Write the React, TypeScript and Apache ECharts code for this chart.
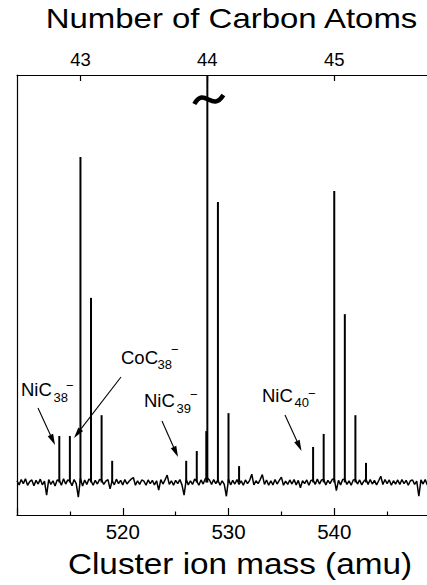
import React, { useEffect, useRef } from "react";
import * as echarts from "echarts";

// ---- data ----
const massMin = 510;
const massMax = 550;
const carbonAtoms = [43, 44, 45];
const carbonMasses = [516, 528, 540];

const noiseStart = 510;
const noiseStep = 0.2;
const noise = [
  0.4, -0.6, 0.7, -0.3, 0.9, -0.7, 0.2, 0.6, -0.8, 0.5,
  -0.4, 0.8, -0.6, 0.3, -3.1, 0.7, -0.5, 0.4, -0.9, 0.6,
  0.5, -0.7, 0.9, -0.4, 0.6, 0.3, -0.8, 0.7, -0.3, -3.6,
  1.0, -0.9, 0.6, -0.5, 0.8, 0.4, -0.7, 0.5, -0.4, 0.7,
  0.6, -0.5, 0.3, 0.7, -1.6, 0.4, -0.6, 0.8, -0.3, 0.5,
  -0.6, 0.7, -0.4, 0.3, 0.8, 1.2, -0.7, 0.4, -0.5, 0.6,
  0.3, -0.7, 0.6, -0.3, 0.5, -0.6, 0.4, -1.9, 0.7, -0.4,
  0.6, 1.8, -0.5, 0.4, -0.7, 0.5, -0.3, 0.7, -0.6, -3.1,
  0.7, -0.6, 0.4, -0.5, 0.8, 0.3, -0.7, 0.6, -0.4, 0.9,
  1.1, 0.6, -0.5, 0.7, -0.3, 0.6, -0.7, 0.4, -0.5, -3.4,
  0.8, -0.6, 0.5, -0.4, 0.7, -0.5, 0.4, -0.7, 0.6, -0.3,
  0.5, 2.0, -0.6, 0.4, -0.3, 0.7, 1.9, -0.5, 0.6, -0.7,
  0.4, -0.6, 0.7, -0.4, 0.5, 1.3, -0.7, 0.3, -0.5, 0.6,
  -0.4, 0.7, -0.6, 0.5, -1.3, 0.4, -0.3, 0.6, -0.7, 0.5,
  0.6, -0.5, 0.8, -0.4, 0.6, 0.7, -0.6, 0.5, -0.3, 0.7,
  0.9, -2.0, 0.5, -0.6, 0.7, 0.8, -0.5, 0.4, -0.7, 0.6,
  0.7, -0.4, 0.6, -0.6, 0.3, 0.8, -0.5, 0.7, -0.4, 0.5,
  -0.6, 0.4, 1.5, -0.5, 0.7, -0.3, 0.6, -0.7, 0.4, -0.4,
  0.6, -0.5, 0.7, -0.3, 0.5, -0.7, 0.4, 0.6, -0.5, 0.3,
  -3.4, 0.6, -0.4, 0.7, -0.6, 0.4, -0.3, 0.6, -0.5, 0.7,
  0.3,
];

const peakMasses = [514, 515, 516, 517, 518, 519, 526, 527, 527.9, 528, 529, 530, 531, 538, 539, 540, 541, 542, 543];
const peakHeights = [11.4, 11.4, 79.9, 45.3, 16.5, 5.3, 5.3, 7.7, 12.6, 130, 68.8, 17.0, 4.0, 8.7, 11.9, 71.5, 41.3, 16.5, 4.8];

const labelMain = ["NiC", "CoC", "NiC", "NiC"];
const labelSub = ["38", "38", "39", "40"];

// annotation layout (pixels)
const labelPos = [
  { x: 21, y: 389.6, subX: 53.5, subY: 397, supX: 66, supY: 385, arrow: [38, 408, 55, 445] },
  { x: 121, y: 357.6, subX: 157.5, subY: 364.1, supX: 171, supY: 349, arrow: [121, 377, 74, 438] },
  { x: 144, y: 400.9, subX: 176.5, subY: 408.1, supX: 190, supY: 394, arrow: [162, 421, 178, 457] },
  { x: 262, y: 395.3, subX: 294.5, subY: 402.5, supX: 308, supY: 393, arrow: [285, 415, 301.5, 451] },
];

const FONT = "Liberation Sans, Arial, Helvetica, sans-serif";

function arrowElems(x1: number, y1: number, x2: number, y2: number) {
  const dx = x2 - x1;
  const dy = y2 - y1;
  const len = Math.sqrt(dx * dx + dy * dy);
  const ux = dx / len;
  const uy = dy / len;
  const L = 11;
  const W = 3;
  const bx = x2 - ux * L;
  const by = y2 - uy * L;
  return [
    {
      type: "line",
      shape: { x1, y1, x2: x2 - ux * L * 0.7, y2: y2 - uy * L * 0.7 },
      style: { stroke: "#000", lineWidth: 1.1 },
      z: 10,
    },
    {
      type: "polygon",
      shape: {
        points: [
          [x2, y2],
          [bx - uy * W, by + ux * W],
          [bx + uy * W, by - ux * W],
        ],
      },
      style: { fill: "#000" },
      z: 10,
    },
  ];
}

export default function App() {
  const ref = useRef<HTMLDivElement>(null);

  useEffect(() => {
    if (!ref.current) return;
    const chart = echarts.init(ref.current, null, { renderer: "svg" });

    const noiseData = noise.map((v, i) => [Number((noiseStart + i * noiseStep).toFixed(1)), v]);
    const peakData = peakMasses.map((m, i) => [m, peakHeights[i]]);

    const axisLineStyle = { color: "#000", width: 1.2 };

    chart.setOption({
      animation: false,
      backgroundColor: "#fff",
      grid: { left: 17, width: 423, top: 75, height: 440, outerBoundsMode: "none", containLabel: false },
      xAxis: [
        {
          type: "value",
          position: "bottom",
          min: massMin,
          max: massMax,
          interval: 10,
          axisLine: { show: true, onZero: false, lineStyle: axisLineStyle },
          axisTick: { show: true, inside: true, length: 7, lineStyle: axisLineStyle },
          minorTick: { show: true, splitNumber: 2, length: 3.5, lineStyle: axisLineStyle },
          axisLabel: {
            show: true,
            margin: 6,
            color: "#000",
            fontFamily: FONT,
            fontSize: 20.5,
            showMinLabel: false,
            showMaxLabel: false,
          },
          splitLine: { show: false },
          minorSplitLine: { show: false },
        },
        {
          type: "value",
          position: "top",
          min: massMin,
          max: massMax,
          axisLine: { show: true, onZero: false, lineStyle: axisLineStyle },
          axisTick: { show: true, inside: true, length: 6, customValues: carbonMasses, lineStyle: axisLineStyle },
          axisLabel: {
            show: true,
            customValues: carbonMasses,
            formatter: (v: number) => String(carbonAtoms[carbonMasses.indexOf(v)] ?? ""),
            margin: 6,
            color: "#000",
            fontFamily: FONT,
            fontSize: 18.5,
          },
          splitLine: { show: false },
        },
      ],
      yAxis: {
        type: "value",
        min: -8,
        max: 100,
        axisLine: { show: true, onZero: false, lineStyle: axisLineStyle },
        axisTick: { show: false },
        axisLabel: { show: false },
        splitLine: { show: false },
      },
      series: [
        {
          type: "line",
          xAxisIndex: 0,
          yAxisIndex: 0,
          data: noiseData,
          symbol: "none",
          lineStyle: { color: "#000", width: 1.5 },
          z: 2,
        },
        {
          type: "bar",
          xAxisIndex: 0,
          yAxisIndex: 0,
          data: peakData,
          barWidth: 2,
          itemStyle: { color: "#000" },
          z: 3,
        },
      ],
    });

    const cx = chart.convertToPixel({ xAxisIndex: 0 }, 528) as number;

    const graphics: any[] = [
      {
        type: "text",
        x: 231.5,
        y: 19,
        scaleX: 1.22,
        style: {
          text: "Number of Carbon Atoms",
          fontFamily: FONT,
          fontSize: 27,
          fill: "#000",
          align: "center",
          verticalAlign: "middle",
        },
      },
      {
        type: "text",
        x: 240,
        y: 564,
        scaleX: 1.11,
        style: {
          text: "Cluster ion mass (amu)",
          fontFamily: FONT,
          fontSize: 30,
          fill: "#000",
          align: "center",
          verticalAlign: "middle",
        },
      },
      {
        type: "bezierCurve",
        shape: { x1: cx - 13, y1: 104, cpx1: cx - 3, cpy1: 86, cpx2: cx + 5, cpy2: 113, x2: cx + 16, y2: 95 },
        style: { stroke: "#000", lineWidth: 4.5, fill: null },
        z: 10,
      },
    ];

    labelPos.forEach((p, i) => {
      graphics.push({
        type: "text",
        x: p.x,
        y: p.y,
        style: { text: labelMain[i], fontFamily: FONT, fontSize: 18.5, fill: "#000", align: "left", verticalAlign: "middle" },
        z: 10,
      });
      graphics.push({
        type: "text",
        x: p.subX,
        y: p.subY,
        style: { text: labelSub[i], fontFamily: FONT, fontSize: 13, fill: "#000", align: "left", verticalAlign: "middle" },
        z: 10,
      });
      graphics.push({
        type: "text",
        x: p.supX,
        y: p.supY,
        style: { text: "\u2212", fontFamily: FONT, fontSize: 13, fill: "#000", align: "left", verticalAlign: "middle" },
        z: 10,
      });
      const a = p.arrow;
      graphics.push(...arrowElems(a[0], a[1], a[2], a[3]));
    });

    chart.setOption({ graphic: graphics });

    return () => chart.dispose();
  }, []);

  return (
    <div
      ref={ref}
      style={{ position: "absolute", left: 0, top: 0, width: 427, height: 585, background: "#fff" }}
    />
  );
}
